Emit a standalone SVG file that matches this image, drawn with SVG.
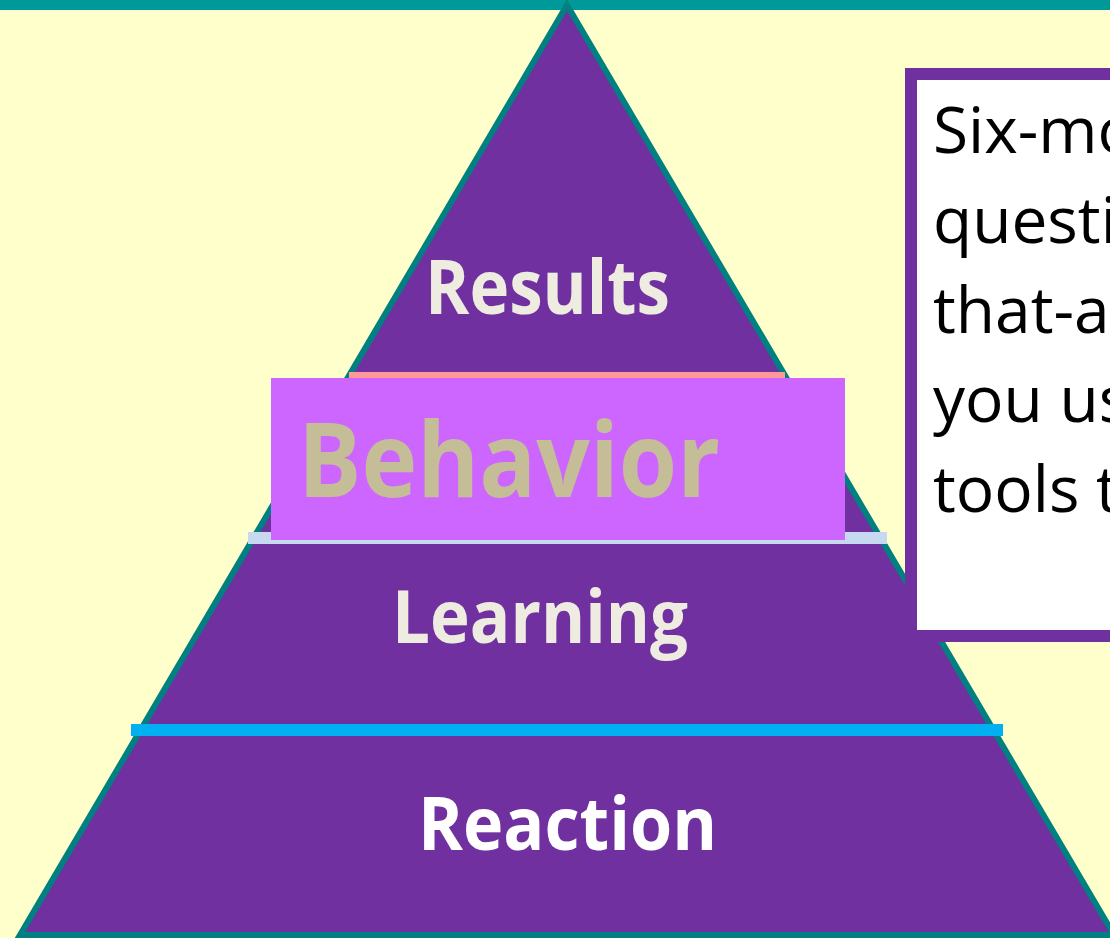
<svg xmlns="http://www.w3.org/2000/svg" width="1110" height="938" viewBox="0 0 1110 938">
  <style>
    .tier { font-family: "Open Sans", "Noto Sans", "Liberation Sans", sans-serif; font-weight: bold; text-anchor: start; }
    .light { fill: #EEECE1; }
    .note { font-family: "Open Sans", "Noto Sans", "Liberation Sans", sans-serif; font-size: 64px; fill: #000000; }
  </style>
  <rect id="background" x="0" y="0" width="1110" height="938" fill="#FFFFCC"/>
  <rect id="top-bar" x="0" y="0" width="1110" height="10" fill="#009999"/>

  <g id="pyramid">
    <polygon points="567,5 1114,935 20,935" fill="#7030A0" stroke="#008080" stroke-width="6" stroke-linejoin="miter"/>
  </g>

  <g id="dividers">
    <rect x="131" y="724" width="872" height="12" fill="#00B0F0"/>
    <rect x="248" y="532" width="639" height="12" fill="#C6D9F1"/>
    <rect x="349" y="372" width="436" height="8" fill="#FF9999"/>
  </g>

  <g id="results">
    <text class="tier light" x="425" y="314" font-size="76" textLength="245" lengthAdjust="spacingAndGlyphs">Results</text>
  </g>

  <g id="behavior">
    <rect x="271" y="378" width="574" height="162" fill="#CC66FF"/>
    <text class="tier" x="298" y="497" font-size="104" fill="#C4BD97" textLength="422" lengthAdjust="spacingAndGlyphs">Behavior</text>
  </g>

  <g id="learning">
    <text class="tier light" x="392" y="643" font-size="74" textLength="296" lengthAdjust="spacingAndGlyphs">Learning</text>
  </g>

  <g id="reaction">
    <text class="tier" x="418" y="850" font-size="74" fill="#FFFFFF" textLength="299" lengthAdjust="spacingAndGlyphs">Reaction</text>
  </g>

  <g id="note">
    <rect x="911" y="74" width="320" height="562" fill="#FFFFFF" stroke="#7030A0" stroke-width="12"/>
    <text class="note" x="933" y="153">Six-mo</text>
    <text class="note" x="933" y="243">questi</text>
    <text class="note" x="933" y="333">that-a</text>
    <text class="note" x="933" y="422">you us</text>
    <text class="note" x="933" y="512">tools t</text>
  </g>
</svg>
